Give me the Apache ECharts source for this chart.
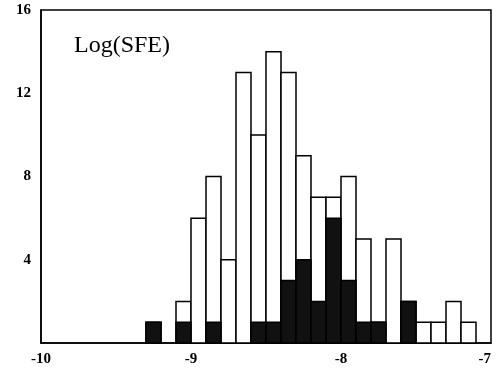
<!DOCTYPE html>
<html>
<head>
<meta charset="utf-8">
<script src="https://cdn.jsdelivr.net/npm/echarts@6/dist/echarts.min.js"></script>
<style>
  html, body { margin: 0; padding: 0; background: #fff; }
  #main { width: 497px; height: 372px; }
</style>
</head>
<body>
<div id="main"></div>
<script>
var chartDom = document.getElementById('main');
var myChart = echarts.init(chartDom);
var option;

// histogram bins (left edge of each 0.1 wide bin)
var binStart = [-9.3, -9.2, -9.1, -9.0, -8.9, -8.8, -8.7, -8.6, -8.5, -8.4, -8.3,
                -8.2, -8.1, -8.0, -7.9, -7.8, -7.7, -7.6, -7.5, -7.4, -7.3, -7.2];
// all counts (white bars)
var totalCounts = [1, 0, 2, 6, 8, 4, 13, 10, 14, 13, 9, 7, 7, 8, 5, 1, 5, 2, 1, 1, 2, 1];
// subset counts (black bars)
var blackCounts = [1, 0, 1, 0, 1, 0, 0, 1, 1, 3, 4, 2, 6, 3, 1, 1, 0, 2, 0, 0, 0, 0];
var binWidth = 0.1;

var xTicks = [-10, -9, -8, -7];
var yTicks = [4, 8, 12, 16];

function makeData(counts) {
    var out = [];
    for (var i = 0; i < binStart.length; i++) {
        if (counts[i] > 0) out.push([binStart[i], counts[i]]);
    }
    return out;
}

function histItem(fill) {
    return function (params, api) {
        var x0 = api.value(0);
        var top = api.coord([x0, api.value(1)]);
        var bot = api.coord([x0 + binWidth, 0]);
        return {
            type: 'rect',
            shape: { x: top[0], y: top[1], width: bot[0] - top[0], height: bot[1] - top[1] },
            style: { fill: fill, stroke: '#000', lineWidth: 1.5 }
        };
    };
}

var labelFont = {
    color: '#000',
    fontFamily: 'Liberation Serif',
    fontWeight: 'bold',
    fontSize: 15
};

option = {
    animation: false,
    backgroundColor: '#fff',
    title: {
        text: 'Log(SFE)',
        left: 69,
        top: 29,
        textStyle: {
            fontFamily: 'Liberation Serif',
            fontWeight: 'normal',
            fontSize: 24,
            color: '#000'
        }
    },
    grid: {
        left: 41, right: 6, top: 10, bottom: 29,
        show: true,
        borderColor: '#000',
        borderWidth: 1.5
    },
    xAxis: {
        type: 'value',
        min: -10, max: -7, interval: 1,
        axisLine: { show: true, lineStyle: { color: '#000', width: 1.5 } },
        axisTick: { show: false },
        splitLine: { show: false },
        axisLabel: Object.assign({
            margin: 9,
            alignMaxLabel: 'right',
            formatter: function (v) { return xTicks.indexOf(v) >= 0 ? String(v) : ''; }
        }, labelFont)
    },
    yAxis: {
        type: 'value',
        min: 0, max: 16, interval: 4,
        axisLine: { show: true, lineStyle: { color: '#000', width: 1.5 } },
        axisTick: { show: false },
        splitLine: { show: false },
        axisLabel: Object.assign({
            margin: 10,
            formatter: function (v) { return yTicks.indexOf(v) >= 0 ? String(v) : ''; }
        }, labelFont)
    },
    series: [
        {
            name: 'all',
            type: 'custom',
            renderItem: histItem('#fff'),
            data: makeData(totalCounts)
        },
        {
            name: 'subset',
            type: 'custom',
            renderItem: histItem('#111'),
            data: makeData(blackCounts)
        }
    ]
};

option && myChart.setOption(option);
</script>
</body>
</html>
